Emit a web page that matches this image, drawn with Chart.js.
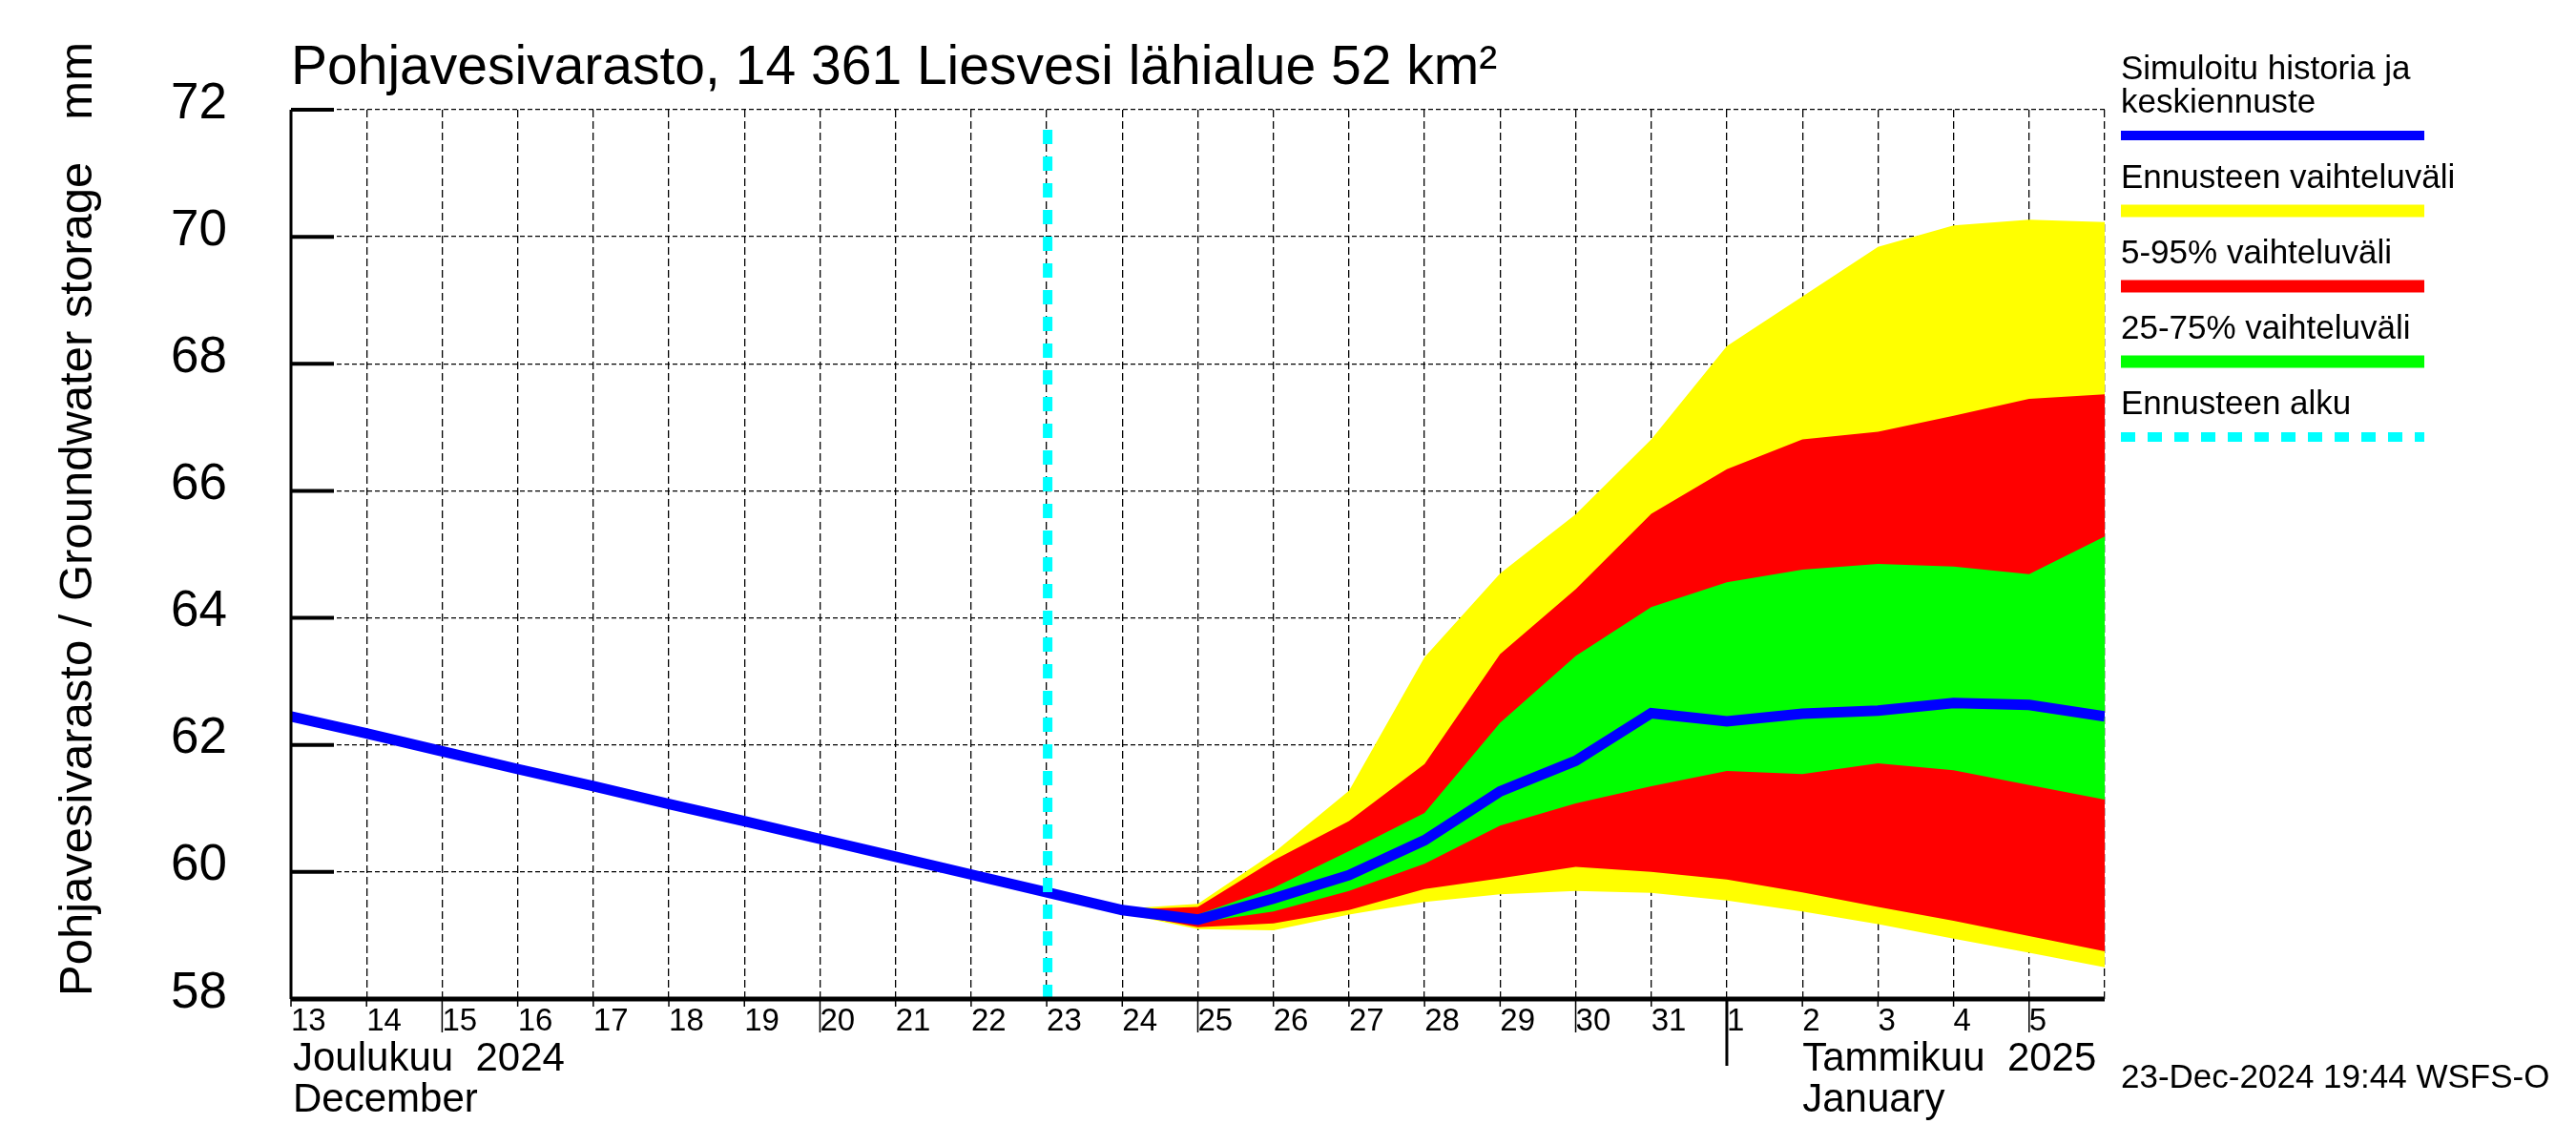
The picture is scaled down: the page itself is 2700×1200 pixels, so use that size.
<!DOCTYPE html>
<html>
<head>
<meta charset="utf-8">
<script src="https://cdn.jsdelivr.net/npm/chart.js@4.4.1/dist/chart.umd.min.js"></script>
<style>
    body { margin: 0; background: #fff; }
    canvas { display: block; }
</style>
</head>
<body>
<canvas id="myChart" width="2700" height="1200"></canvas>
<script>
// day ticks from 13 Dec 2024 to 5 Jan 2025 (tick 24 = 6 Jan is the right edge)
const dayLabels = ['13', '14', '15', '16', '17', '18', '19', '20', '21', '22', '23', '24',
    '25', '26', '27', '28', '29', '30', '31', '1', '2', '3', '4', '5'];

// simulated history + mean forecast, one value per day (13 Dec .. 6 Jan)
const meanValues = [62.45, 62.18, 61.90, 61.62, 61.35, 61.07, 60.80, 60.52, 60.24, 59.96, 59.68, 59.40,
    59.25, 59.58, 59.95, 60.50, 61.27, 61.75, 62.50, 62.37, 62.49, 62.54, 62.66, 62.63, 62.45];

// forecast ranges start on 24 Dec (day index 11)
const bandStart = 11;
const yellowMax = [59.42, 59.50, 60.30, 61.28, 63.38, 64.70, 65.63, 66.81, 68.28, 69.06, 69.84, 70.18, 70.27, 70.23];
const redMax = [59.41, 59.45, 60.18, 60.80, 61.70, 63.43, 64.45, 65.64, 66.34, 66.81, 66.93, 67.18, 67.45, 67.52];
const greenMax = [59.40, 59.33, 59.75, 60.33, 60.93, 62.35, 63.40, 64.17, 64.56, 64.76, 64.85, 64.81, 64.69, 65.28];
const greenMin = [59.38, 59.20, 59.38, 59.70, 60.13, 60.73, 61.08, 61.35, 61.59, 61.54, 61.71, 61.60, 61.37, 61.14];
const redMin = [59.36, 59.13, 59.19, 59.40, 59.73, 59.90, 60.08, 60.00, 59.88, 59.68, 59.45, 59.23, 58.99, 58.75];
const yellowMin = [59.35, 59.10, 59.08, 59.33, 59.53, 59.65, 59.70, 59.67, 59.55, 59.38, 59.18, 58.95, 58.73, 58.50];

const forecastDay = 10; // "Ennusteen alku", 23 Dec

const legendItems = [
    { text: ['Simuloitu historia ja', 'keskiennuste'], color: '#0000ff' },
    { text: ['Ennusteen vaihteluväli'], color: '#ffff00' },
    { text: ['5-95% vaihteluväli'], color: '#ff0000' },
    { text: ['25-75% vaihteluväli'], color: '#00ff00' },
    { text: ['Ennusteen alku'], color: '#00ffff' }
];

const fontName = "'Liberation Sans', Arial, sans-serif";

function toPoints(values, start) {
    return values.map((v, i) => ({ x: start + i, y: v }));
}

function band(values, color, fill) {
    return {
        data: toPoints(values, bandStart),
        borderColor: 'rgba(0,0,0,0)',
        borderWidth: 0,
        backgroundColor: color,
        fill: fill,
        pointRadius: 0,
        tension: 0
    };
}

const decor = {
    id: 'decor',
    beforeDraw(chart) {
        const ctx = chart.ctx;
        ctx.save();
        ctx.fillStyle = '#fff';
        ctx.fillRect(0, 0, chart.width, chart.height);
        ctx.restore();
    },
    afterDatasetsDraw(chart) {
        const { ctx, chartArea, scales } = chart;
        const px = scales.x.getPixelForValue(forecastDay) + 1;
        ctx.save();
        ctx.strokeStyle = '#00ffff';
        ctx.lineWidth = 10;
        ctx.setLineDash([15, 13]);
        ctx.beginPath();
        ctx.moveTo(px, chartArea.bottom);
        ctx.lineTo(px, chartArea.top + 8);
        ctx.stroke();
        ctx.restore();
    },
    afterDraw(chart) {
        const { ctx, chartArea, scales } = chart;
        const { left, right, top, bottom } = chartArea;
        const x = scales.x, y = scales.y;
        ctx.save();
        ctx.strokeStyle = '#000';
        ctx.fillStyle = '#000';

        // axes
        ctx.lineWidth = 3;
        ctx.beginPath();
        ctx.moveTo(left, top);
        ctx.lineTo(left, bottom);
        ctx.stroke();

        ctx.lineWidth = 4;
        y.ticks.forEach(t => {
            const py = y.getPixelForValue(t.value);
            ctx.beginPath();
            ctx.moveTo(left, py);
            ctx.lineTo(left + 45, py);
            ctx.stroke();
        });

        ctx.lineWidth = 5;
        ctx.beginPath();
        ctx.moveTo(left, bottom);
        ctx.lineTo(right, bottom);
        ctx.stroke();

        x.ticks.forEach(t => {
            const lab = dayLabels[t.value];
            if (lab === undefined) return;
            const px = x.getPixelForValue(t.value);
            let len = 8, w = 1.5;
            if (lab === '1') { len = 70; w = 3; }
            else if (Number(lab) % 5 === 0) { len = 35; }
            ctx.lineWidth = w;
            ctx.beginPath();
            ctx.moveTo(px, bottom);
            ctx.lineTo(px, bottom + len);
            ctx.stroke();
        });

        // title
        ctx.font = '57px ' + fontName;
        ctx.textBaseline = 'alphabetic';
        ctx.textAlign = 'left';
        ctx.fillText('Pohjavesivarasto, 14 361 Liesvesi lähialue 52 km²', left, 88);

        // y axis title
        ctx.font = '49px ' + fontName;
        ctx.save();
        ctx.translate(96, bottom - 3);
        ctx.rotate(-Math.PI / 2);
        ctx.fillText('Pohjavesivarasto / Groundwater storage', 0, 0);
        ctx.restore();
        ctx.save();
        ctx.translate(96, 44);
        ctx.rotate(-Math.PI / 2);
        ctx.textAlign = 'right';
        ctx.fillText('mm', 0, 0);
        ctx.restore();

        // month names
        ctx.font = '42px ' + fontName;
        ctx.fillText('Joulukuu  2024', left + 2, 1122);
        ctx.fillText('December', left + 2, 1165);
        const janX = x.getPixelForValue(dayLabels.indexOf('2'));
        ctx.fillText('Tammikuu  2025', janX, 1122);
        ctx.fillText('January', janX, 1165);

        ctx.font = '35px ' + fontName;
        ctx.fillText('23-Dec-2024 19:44 WSFS-O', 2223, 1140);

        // legend
        const lx = 2223, lw = 318;
        let ly = 83;
        legendItems.forEach((item, i) => {
            item.text.forEach((line, j) => {
                ctx.fillText(line, lx, ly + j * 35);
            });
            const barY = ly + (item.text.length - 1) * 35 + 24;
            ctx.strokeStyle = item.color;
            ctx.lineWidth = i === 0 || i === 4 ? 10 : 13;
            ctx.setLineDash(i === 4 ? [15, 13] : []);
            ctx.beginPath();
            ctx.moveTo(lx, barY);
            ctx.lineTo(lx + lw, barY);
            ctx.stroke();
            ly = barY + 55;
        });
        ctx.restore();
    }
};

window.addEventListener('DOMContentLoaded', () => {
    const ctx = document.getElementById('myChart').getContext('2d');
    const myChart = new Chart(ctx, {
        type: 'line',
        data: {
            datasets: [{
                    label: 'Simuloitu historia ja keskiennuste',
                    data: toPoints(meanValues, 0),
                    borderColor: '#0000ff',
                    borderWidth: 11,
                    fill: false,
                    pointRadius: 0,
                    tension: 0
                },
                band(greenMax, '#00ff00', '+1'),
                band(greenMin, '#00ff00', false),
                band(redMax, '#ff0000', '+1'),
                band(redMin, '#ff0000', false),
                band(yellowMax, '#ffff00', '+1'),
                band(yellowMin, '#ffff00', false)
            ]
        },
        options: {
            responsive: false,
            animation: false,
            devicePixelRatio: 1,
            layout: { padding: { left: 0, top: 115, right: 494, bottom: 0 } },
            plugins: {
                legend: { display: false },
                tooltip: { enabled: false }
            },
            scales: {
                x: {
                    type: 'linear',
                    min: 0,
                    max: 24,
                    afterFit(scale) { scale.height = 153; },
                    ticks: {
                        stepSize: 1,
                        autoSkip: false,
                        maxRotation: 0,
                        align: 'start',
                        labelOffset: 0,
                        padding: 4,
                        color: '#000',
                        font: { family: fontName, size: 33 },
                        callback: (v) => dayLabels[v] !== undefined ? dayLabels[v] : ''
                    },
                    grid: { color: '#000', lineWidth: 1.3, drawTicks: false },
                    border: { display: false, dash: [8, 4] }
                },
                y: {
                    min: 58,
                    max: 72,
                    afterFit(scale) { scale.width = 305; },
                    ticks: {
                        stepSize: 2,
                        padding: 67,
                        labelOffset: -6,
                        color: '#000',
                        font: { family: fontName, size: 53 }
                    },
                    grid: { color: '#000', lineWidth: 1.3, drawTicks: false },
                    border: { display: false, dash: [5, 3] }
                }
            }
        },
        plugins: [decor]
    });
});
</script>
</body>
</html>
